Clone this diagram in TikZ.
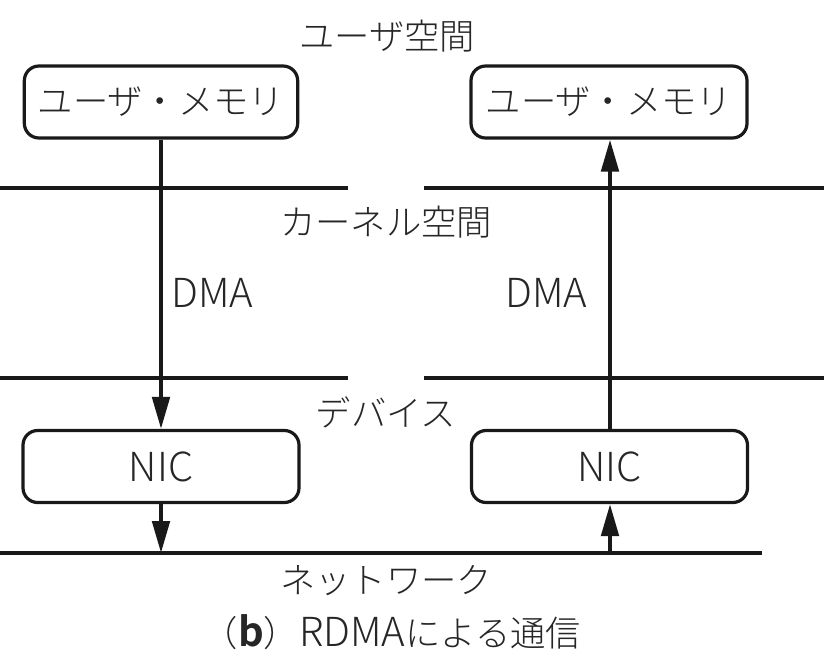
\documentclass[tikz,border=0pt]{standalone}
\usepackage{fontspec}
\setmainfont{Noto Sans CJK JP Light}[BoldFont={Noto Sans CJK JP Bold}]
\usetikzlibrary{arrows.meta}
\newcommand{\latn}[1]{{\fontsize{30}{36}\selectfont #1}}
\begin{document}
\begin{tikzpicture}[x=0.75pt,y=-0.75pt,
  box/.style={draw=black!90,line width=2.4pt,rounded corners=11pt,minimum height=54pt,inner sep=0pt},
  layer/.style={line width=3pt,black!90},
  arr/.style={line width=3pt,black!90,-{Triangle[length=24pt,width=13pt]}},
  lbl/.style={font=\fontsize{26.5}{32}\selectfont,text=black!85,inner sep=0pt},
  boxtext/.style={font=\fontsize{26.5}{32}\selectfont,text=black!85}]
\useasboundingbox (0,0) rectangle (824,665);
% layer lines
\draw[layer] (0,188) -- (348,188);
\draw[layer] (424,188) -- (824,188);
\draw[layer] (0,378) -- (348,378);
\draw[layer] (424,378) -- (824,378);
\draw[layer] (0,553) -- (762,553);
% labels
\node[lbl] (t1) at (387,36) {ユーザ空間};
\node[lbl] (t2) at (386,222) {カーネル空間};
\node[lbl] (t3) at (386,412) {デバイス};
\node[lbl] (t4) at (386,581) {ネットワーク};
\node[lbl] (cap) at (392,632) {（\textbf{\latn{b}}）\latn{RDMA}による通信};
\node[lbl,anchor=west] (d1) at (171,293) {\latn{DMA}};
\node[lbl,anchor=west] (d2) at (505,293) {\latn{DMA}};
% boxes
\node[box,minimum width=205pt,boxtext] (um1) at (161,102) {ユーザ・メモリ};
\node[box,minimum width=207pt,boxtext] (um2) at (609,102) {ユーザ・メモリ};
\node[box,minimum width=207pt,boxtext] (nic1) at (161,466.5) {\latn{NIC}};
\node[box,minimum width=207pt,boxtext] (nic2) at (609.5,466.5) {\latn{NIC}};
\coordinate (n1) at (161,553);
\coordinate (n2) at (610,553);
% arrows
\draw[arr] (um1.south) -- (nic1.north);
\draw[arr] (nic1.south) -- (n1);
\draw[arr] (n2) -- (n2|-nic2.south);
\draw[arr] (n2|-nic2.north) -- (n2|-um2.south);
\end{tikzpicture}
\end{document}
